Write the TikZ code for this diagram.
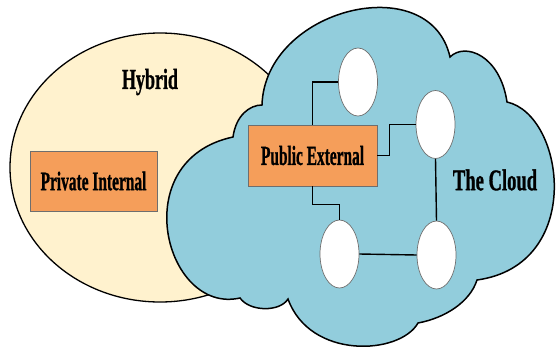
\documentclass[tikz,border=0pt]{standalone}
\usepackage{fontspec}
\usepackage{graphicx}
\setmainfont{Liberation Serif}
\newfontfamily\heavyserif{Liberation Serif}[BoldFont={* Bold}, BoldFeatures={FakeBold=1.2}]
\usetikzlibrary{shapes.geometric}

\definecolor{hybridfill}{RGB}{255,242,206}
\definecolor{cloudfill}{RGB}{146,205,220}
\definecolor{boxfill}{RGB}{245,158,90}
\definecolor{boxline}{RGB}{110,110,110}

% condensed heavy serif label: #1 = size, #2 = horizontal factor, #3 = text
\newcommand{\condtext}[3]{\scalebox{#2}[1]{\fontsize{#1}{#1}\heavyserif\bfseries #3}}

\tikzset{
  zonebox/.style={draw=boxline, line width=0.8pt, fill=boxfill, inner sep=0pt},
  hostnode/.style={ellipse, draw=boxline, line width=0.7pt, fill=white,
    minimum width=39pt, minimum height=68pt, inner sep=0pt},
  link/.style={draw=black, line width=1.4pt},
  label/.style={inner sep=0pt}
}

\begin{document}
\begin{tikzpicture}[x=1pt, y=-1pt]
\useasboundingbox (0,0) rectangle (557,351);

% hybrid region
\draw[fill=hybridfill, line width=1.3pt] (160,167.5) ellipse [x radius=150, y radius=134.5];

% the cloud
\draw[fill=cloudfill, line width=1.5pt]
  (262,105)
  .. controls (265,8) and (430,-32) .. (450,57)
  .. controls (465,42) and (500,55) .. (507,102)
  .. controls (565,115) and (585,265) .. (477,280)
  .. controls (470,302) and (445,318) .. (418,323)
  .. controls (400,355) and (310,360) .. (288,299)
  .. controls (280,312) and (250,312) .. (240,298)
  .. controls (165,315) and (125,160) .. (233,137)
  .. controls (236,115) and (250,105) .. (262,105) -- cycle;

% zones
\node[zonebox, minimum width=127pt, minimum height=60pt] (priv) at (93.5,181)
  {\condtext{26.6}{0.58}{Private Internal}};
\node[zonebox, minimum width=129pt, minimum height=61pt] (pub) at (312.5,155.5)
  {\condtext{27.5}{0.56}{Public External}};

% hosts inside the cloud
\node[hostnode] (t1) at (358,82) {};
\node[hostnode] (r1) at (435.5,124.5) {};
\node[hostnode] (b1) at (339.5,254) {};
\node[hostnode] (b2) at (436.5,255) {};

% labels
\node[label] (hyb) at (150,82) {\condtext{29}{0.62}{Hybrid}};
\node[label] (cld) at (495,180) {\condtext{30}{0.62}{The Cloud}};

% links
\draw[link] (t1.west) -| (pub.north);
\draw[link] (pub.east) -- ++(12,0) |- (r1.west);
\draw[link] (pub.south) -- ++(0,18) -| (b1.north);
\draw[link] (b1.east) -- (b2.west);
\draw[link] (r1.south) -- (b2.north);
\end{tikzpicture}
\end{document}
